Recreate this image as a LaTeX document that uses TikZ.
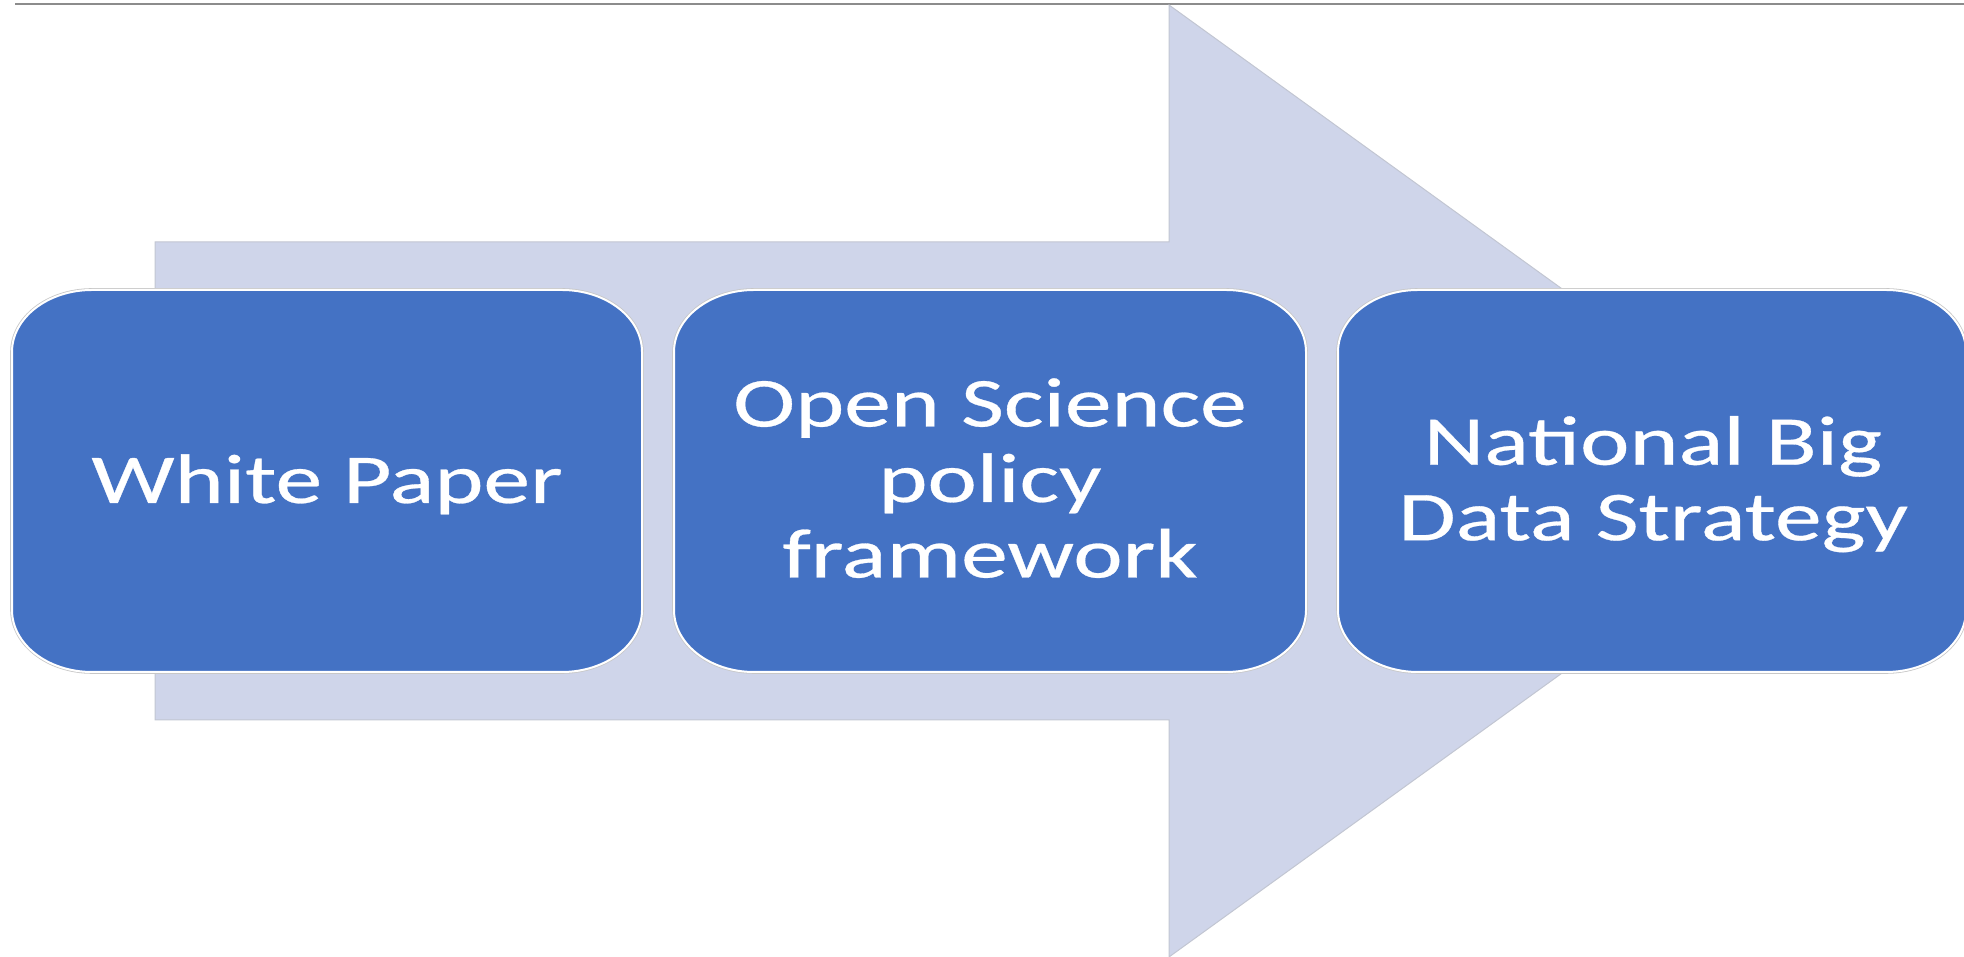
\documentclass[tikz,border=0pt]{standalone}
\usepackage{graphicx}
\usepackage{fontspec}
\usetikzlibrary{calc,backgrounds}
\newfontfamily\boxfont[FakeBold=0.4]{Carlito}
\definecolor{boxblue}{HTML}{4472C4}
\definecolor{arrowfill}{HTML}{CFD5EA}
\definecolor{arrowline}{HTML}{C2C6D2}
\definecolor{topline}{HTML}{8C8C8C}
\newcommand\wideline[1]{\scalebox{1.336}[1]{#1}}
\newcommand\topstrut{\rule{0pt}{60pt}}
\newcommand\botstrut{\rule[-20pt]{0pt}{20pt}}
\tikzset{
  boxnode/.style={rectangle, inner sep=0pt, outer sep=0pt, minimum height=382pt},
  boxtext/.style={inner sep=0pt, text=white, align=center, font=\boxfont\fontsize{70}{75.5}\selectfont},
  boxshape/.style={fill=boxblue, draw=white, line width=2pt, preaction={draw=black!22, line width=3.6pt}},
  arrowshape/.style={fill=arrowfill, draw=arrowline, line width=1pt, line join=miter}
}
\newcommand\ebox[1]{%
  \path[boxshape] ($(#1.north west)+(80,0)$) -- ($(#1.north east)+(-80,0)$)
    arc[start angle=90, end angle=0, x radius=80, y radius=62]
    -- ($(#1.south east)+(0,62)$)
    arc[start angle=0, end angle=-90, x radius=80, y radius=62]
    -- ($(#1.south west)+(80,0)$)
    arc[start angle=-90, end angle=-180, x radius=80, y radius=62]
    -- ($(#1.north west)+(0,-62)$)
    arc[start angle=180, end angle=90, x radius=80, y radius=62] -- cycle;}
\begin{document}
\begin{tikzpicture}[x=1pt, y=1pt]
\useasboundingbox (0,0) rectangle (1964,957);
% box placeholders
\node[boxnode, minimum width=630pt] (b1) at (327,476) {};
\node[boxnode, minimum width=632pt] (b2) at (990,476) {};
\node[boxnode, minimum width=628pt] (b3) at (1652,476) {};
% texts
\node[boxtext] (t1) at ($(b1.center)+(0,-2)$) {\topstrut\wideline{White Paper}\botstrut};
\node[boxtext] (t2) at ($(b2.center)+(0,-1)$) {\topstrut\wideline{Open Science}\\\wideline{policy}\\\wideline{framework}\botstrut};
\node[boxtext] (t3) at ($(b3.center)+(1,-1.5)$) {\topstrut\wideline{National Big}\\\wideline{Data Strategy}\botstrut};
\begin{scope}[on background layer]
  % top rule
  \coordinate (l1) at (15,952.5);
  \coordinate (l2) at (1964,952.5);
  \draw[topline, line width=2pt] (l1) -- (l2);
  % big arrow
  \coordinate (a1) at (155,715);
  \coordinate (a2) at (1169,715);
  \coordinate (a3) at (1169,952);
  \coordinate (a4) at (1828,476);
  \coordinate (a5) at (1169,0);
  \coordinate (a6) at (1169,237);
  \coordinate (a7) at (155,237);
  \path[arrowshape] (a1) -- (a2) -- (a3) -- (a4) -- (a5) -- (a6) -- (a7) -- cycle;
  % rounded boxes
  \ebox{b1}
  \ebox{b2}
  \ebox{b3}
\end{scope}
\end{tikzpicture}
\end{document}
